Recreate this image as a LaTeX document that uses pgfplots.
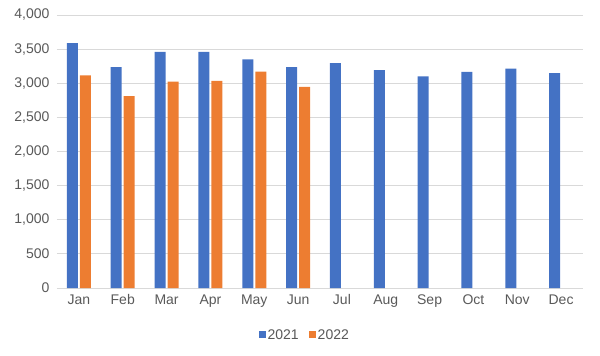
\documentclass[border=0pt]{standalone}
\usepackage{pgfplots}
\pgfplotsset{compat=1.18}
\usepackage{fontspec}
\setmainfont{Liberation Sans}
\definecolor{cblue}{HTML}{4472C4}
\definecolor{corange}{HTML}{ED7D31}
\definecolor{cgrid}{HTML}{D9D9D9}
\definecolor{ctext}{HTML}{595959}
\begin{document}
\begin{tikzpicture}
\begin{axis}[
  scale only axis,
  width=526bp, height=273bp,
  ybar=2bp, bar width=11bp,
  xmin=-0.5, xmax=11.5,
  ymin=0, ymax=4000,
  ytick={0,500,...,4000},
  xtick={0,...,11},
  xticklabels={Jan,Feb,Mar,Apr,May,Jun,Jul,Aug,Sep,Oct,Nov,Dec},
  scaled y ticks=false,
  /pgf/number format/assume math mode=true,
  /pgf/number format/1000 sep={,},
  ymajorgrids, grid style={cgrid, line width=0.8bp},
  axis x line*=bottom, axis y line*=left,
  x axis line style={cgrid, line width=0.8bp, -},
  y axis line style={draw=none},
  major tick length=0pt,
  tick label style={font=\fontsize{14bp}{16bp}\selectfont, text=ctext},
  yticklabel style={xshift=-4bp},
  xticklabel style={yshift=-3bp},
  legend style={draw=none, at={(0.471,-0.172)}, anchor=center,
    legend columns=-1, font=\fontsize{14bp}{16bp}\selectfont, text=ctext,
    /tikz/every even column/.append style={column sep=8bp}},
  legend image code/.code={\fill[#1,draw=none] (0bp,-3.5bp) rectangle (7bp,3.5bp);},
  legend cell align=left,
]
\addplot[fill=cblue, draw=none] coordinates {
 (0,3588) (1,3238) (2,3461) (3,3461) (4,3350) (5,3238)
 (6,3296) (7,3194) (8,3102) (9,3165) (10,3213) (11,3150)};
\addplot[fill=corange, draw=none] coordinates {
 (0,3117) (1,2810) (2,3023) (3,3034) (4,3169) (5,2946)};
\legend{2021,2022}
\end{axis}
\path ([shift={(-57bp,-68bp)}]current axis.south west) rectangle ([shift={(17bp,15bp)}]current axis.north east);
\end{tikzpicture}
\end{document}
